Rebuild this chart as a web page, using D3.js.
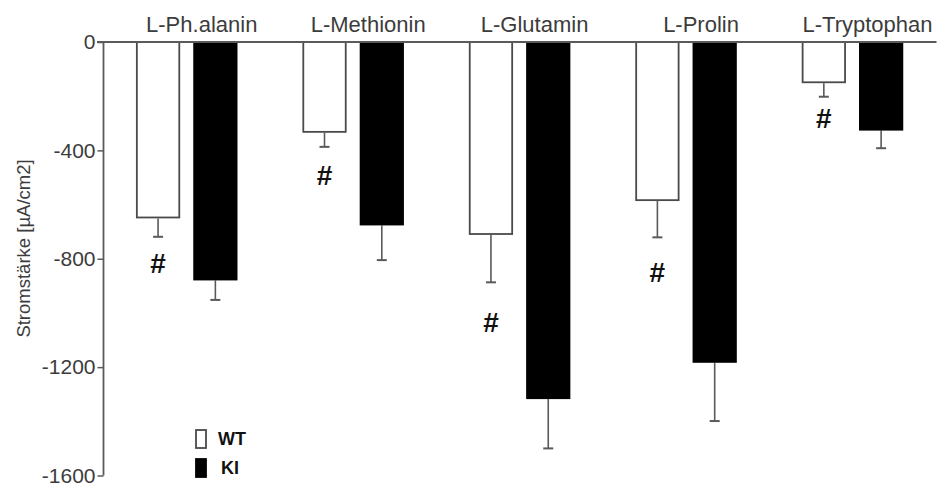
<!DOCTYPE html>
<html><head><meta charset="utf-8">
<script src="https://cdn.jsdelivr.net/npm/d3@7"></script>
<style>body{margin:0;background:#fff}svg{display:block}</style>
</head><body><svg id="chart" width="944" height="494"></svg>
<script>
const categories = ["L-Ph.alanin", "L-Methionin", "L-Glutamin", "L-Prolin", "L-Tryptophan"];
const seriesNames = ["WT", "KI"];
const wtMean = [-651, -335, -712, -587, -152];
const wtErr  = [68, 52, 175, 134, 50];
const kiMean = [-880, -677, -1318, -1184, -327];
const kiErr  = [72, 128, 182, 215, 65];
const sigMark = ["#", "#", "#", "#", "#"];
const sigValue = [-816, -491, -1033, -848, -282];
const yTicks = [0, -400, -800, -1200, -1600];
const yLabel = "Stromstärke [µA/cm2]";

const svg = d3.select("#chart");
const font = "'Liberation Sans', Arial, sans-serif";
const axisCol = "#5a5a5a";
const textCol = "#3c3c3c";

const x0 = d3.scaleBand().domain(categories).range([103.5, 935.7]).paddingInner(0.39).paddingOuter(0.195);
const x1 = d3.scaleBand().domain(seriesNames).range([0, x0.bandwidth()]).paddingInner(0.228);
const y = d3.scaleLinear().domain([0, -1600]).range([42, 475.5]);

const rows = categories.map((c, i) => ({
  cat: c,
  vals: [
    {s: "WT", v: wtMean[i], e: wtErr[i]},
    {s: "KI", v: kiMean[i], e: kiErr[i]}
  ]
}));

// Error bars (drawn before bars so bars cover stems)
const g = svg.append("g");
rows.forEach(r => {
  r.vals.forEach(d => {
    const cx = x0(r.cat) + x1(d.s) + x1.bandwidth() / 2;
    g.append("line").attr("x1", cx).attr("x2", cx)
      .attr("y1", y(d.v)).attr("y2", y(d.v - d.e))
      .attr("stroke", axisCol).attr("stroke-width", 1.6);
    g.append("line").attr("x1", cx - 5).attr("x2", cx + 5)
      .attr("y1", y(d.v - d.e)).attr("y2", y(d.v - d.e))
      .attr("stroke", axisCol).attr("stroke-width", 2);
  });
});

// Bars
rows.forEach(r => {
  r.vals.forEach(d => {
    const isWT = d.s === "WT";
    g.append("rect")
      .attr("x", x0(r.cat) + x1(d.s) + (isWT ? 0.9 : 0))
      .attr("y", y(0))
      .attr("width", x1.bandwidth() - (isWT ? 1.8 : 0))
      .attr("height", y(d.v) - y(0) - (isWT ? 0.9 : 0))
      .attr("fill", isWT ? "#fff" : "#000")
      .attr("stroke", isWT ? "#4a4a4a" : "none")
      .attr("stroke-width", 1.8);
  });
});

// Zero line (x axis)
svg.append("line").attr("x1", 97).attr("x2", 936.5)
  .attr("y1", y(0)).attr("y2", y(0))
  .attr("stroke", axisCol).attr("stroke-width", 1.8);

// Y axis
const yAxis = d3.axisLeft(y).tickValues(yTicks).tickSize(6).tickPadding(2).tickFormat(d3.format("d"));
const ya = svg.append("g").attr("transform", "translate(103.5,0)").call(yAxis);
ya.select(".domain").attr("stroke", axisCol).attr("stroke-width", 1.8).attr("d", `M0,${y(0)}V${y(-1600)}`);
ya.selectAll(".tick line").attr("stroke", axisCol).attr("stroke-width", 1.5);
ya.selectAll(".tick text").attr("fill", textCol).style("font-family", font).style("font-size", "21px")
  .text(d => d === 0 ? "0" : "-" + Math.abs(d));

// Y label
svg.append("text").attr("transform", `translate(30,248.5) rotate(-90)`)
  .attr("text-anchor", "middle").attr("fill", textCol)
  .style("font-family", font).style("font-size", "18.5px").text(yLabel);

// Category labels
svg.selectAll(".cat").data(categories).enter().append("text")
  .attr("x", d => x0(d) + x0.bandwidth() / 2 + 15).attr("y", 32)
  .attr("text-anchor", "middle").attr("fill", textCol)
  .style("font-family", font).style("font-size", "22px").text(d => d);

// Significance marks
svg.selectAll(".sig").data(categories).enter().append("text")
  .attr("x", d => x0(d) + x1("WT") + x1.bandwidth() / 2)
  .attr("y", (d, i) => y(sigValue[i])).attr("dy", "0.36em")
  .attr("text-anchor", "middle").attr("fill", "#111")
  .style("font-family", font).style("font-weight", "bold").style("font-size", "28px")
  .text((d, i) => sigMark[i]);

// Legend
const legend = svg.append("g");
seriesNames.forEach((s, i) => {
  const ly = 430 + i * 29;
  legend.append("rect").attr("x", 196).attr("y", ly).attr("width", 10).attr("height", 18)
    .attr("fill", s === "WT" ? "#fff" : "#000")
    .attr("stroke", s === "WT" ? "#4a4a4a" : "#000").attr("stroke-width", 1.8);
  legend.append("text").attr("x", s === "WT" ? 218 : 221).attr("y", ly + 15)
    .attr("fill", "#111").style("font-family", font).style("font-weight", "bold").style("font-size", "18px")
    .text(s);
});
</script>
</body></html>
